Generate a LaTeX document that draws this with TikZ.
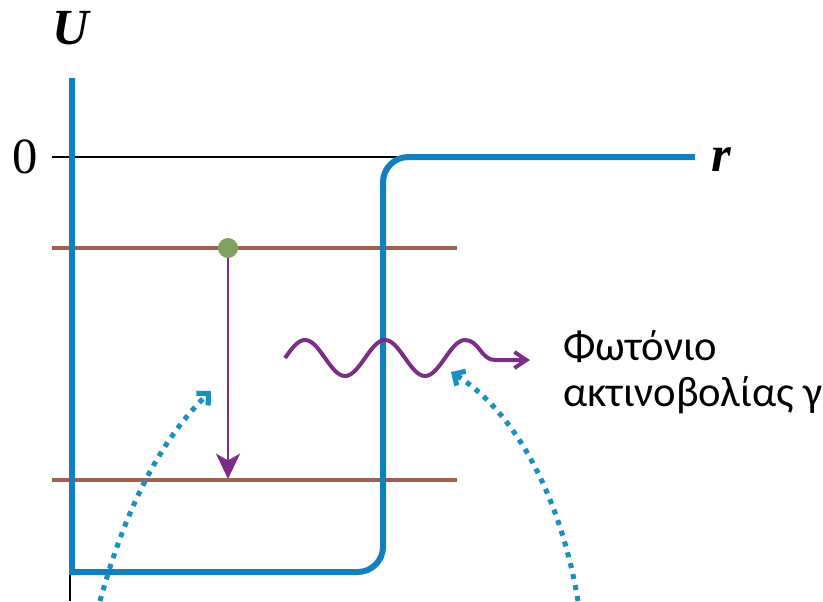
\documentclass[tikz,border=0pt]{standalone}
\usepackage{fontspec}
\usepackage{tikz}
\usetikzlibrary{positioning, arrows.meta}
\newfontfamily\greekfont{Carlito}
\newfontfamily\axisfont{Liberation Serif}
\definecolor{wellblue}{HTML}{1280BE}
\definecolor{dotblue}{HTML}{1A90C0}
\definecolor{levelbrown}{HTML}{A0624E}
\definecolor{nucgreen}{HTML}{7FA35E}
\definecolor{gammapurple}{HTML}{7A2E85}

\begin{document}
\begin{tikzpicture}[x=0.75pt, y=-0.75pt,
    axislabel/.style={font=\axisfont\fontsize{38}{40}\selectfont, inner sep=0pt},
    level/.style={levelbrown, line width=2.3pt},
    well/.style={wellblue, line width=4.5pt},
    tunnel/.style={dotblue, line width=3.8pt, dash pattern=on 3.8pt off 4.6pt,
                   -{Straight Barb[angle=90:9pt, line width=3.8pt]}}]
    \useasboundingbox (0,0) rectangle (823,601);
    % axes
    \draw[line width=1.1pt] (52,157) -- (400,157);
    \draw[line width=1.1pt] (70,540) -- (70,601);
    \node[axislabel] (ulab) at (72,28) {\textbf{\textit{U}}};
    \node[axislabel] (zero) at (25,157) {0};
    \node[axislabel] (rlab) at (722,160) {\textbf{\textit{r}}};
    % energy levels
    \draw[level] (52,248) -- (457,248);
    \draw[level] (52,480) -- (457,480);
    % potential well
    \draw[well] (72,78) -- (72,572) -- (100,572) [rounded corners=19pt]
      -- (383,572) -- (383,157) -- (695,157);
    % transition
    \node[circle, fill=nucgreen, minimum size=15pt, inner sep=0pt] (nuc) at (228,248) {};
    \coordinate (lowhit) at (228,479);
    \draw[gammapurple, line width=1.7pt, -{Stealth[length=19pt, width=18pt, inset=5pt]}]
      (nuc.south) -- (lowhit);
    % photon
    \coordinate (wavestart) at (285,358);
    \coordinate (waveend) at (530,360);
    \draw[gammapurple, line width=3pt, -{Straight Barb[length=9pt, width=12pt, line width=3pt]}]
      plot[domain=0:180, samples=80, smooth] ({285+\x}, {358-18*sin(\x*4.5)})
      to[out=0, in=180] (495,360) -- (waveend);
    \node[anchor=base west, align=left, font=\greekfont\fontsize{32}{34}\selectfont,
          inner sep=0pt] (photonlab) at (563,406) {Φωτόνιο\\ακτινοβολίας γ};
    % tunnelling alpha paths
    \coordinate (lefttail) at (100,601);
    \coordinate (lefttip) at (211,391);
    \coordinate (righttail) at (578,601);
    \coordinate (righttip) at (451,372);
    \draw[tunnel] (lefttail) .. controls (125,510) and (160,440) .. (lefttip);
    \draw[tunnel] (righttail) .. controls (562,505) and (520,415) .. (righttip);
\end{tikzpicture}
\end{document}
